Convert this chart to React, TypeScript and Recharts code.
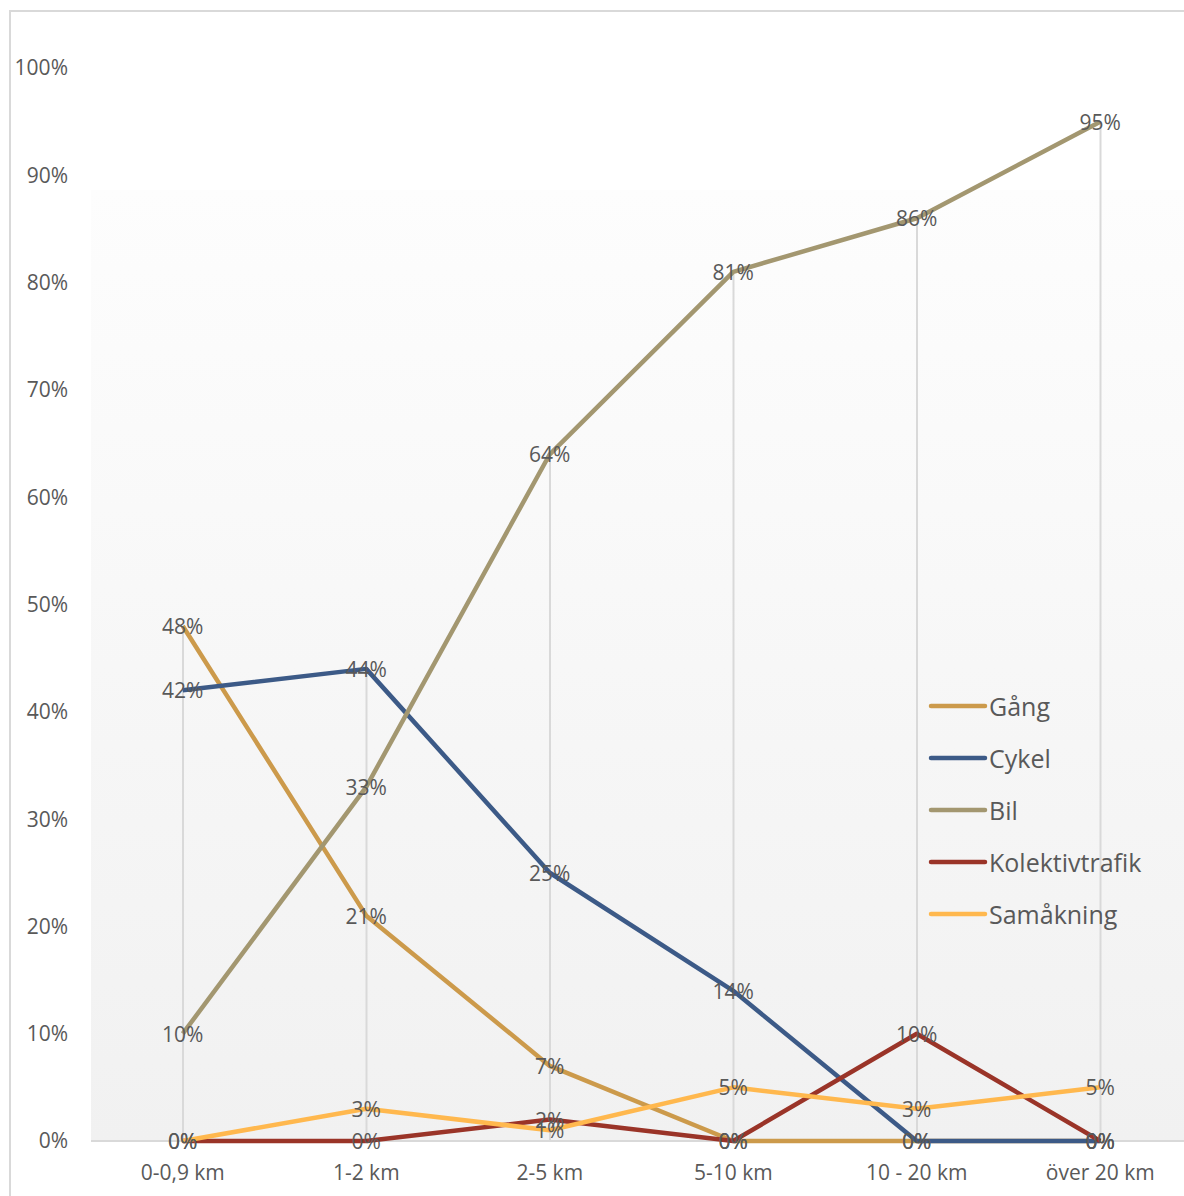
import React from "react";
import {
  ComposedChart,
  Line,
  Bar,
  XAxis,
  YAxis,
  CartesianGrid,
} from "recharts";

const categories = ["0-0,9 km", "1-2 km", "2-5 km", "5-10 km", "10 - 20 km", "över 20 km"];

const gang = [48, 21, 7, 0, 0, 0];
const cykel = [42, 44, 25, 14, 0, 0];
const bil = [10, 33, 64, 81, 86, 95];
const kollektiv = [0, 0, 2, 0, 10, 0];
const samakning = [0, 3, 1, 5, 3, 5];

const yTicks = [0, 10, 20, 30, 40, 50, 60, 70, 80, 90, 100];

const series = [
  { key: "gang", name: "Gång", color: "#CC9A4B", values: gang },
  { key: "cykel", name: "Cykel", color: "#3C5A87", values: cykel },
  { key: "bil", name: "Bil", color: "#A39770", values: bil },
  { key: "kollektiv", name: "Kolektivtrafik", color: "#9A3428", values: kollektiv },
  { key: "samakning", name: "Samåkning", color: "#FFB84E", values: samakning },
];

// one row per distance, plus the highest value for the drop line
const data = categories.map((cat, i) => {
  const row: any = { cat };
  series.forEach((s) => (row[s.key] = s.values[i]));
  row.drop = Math.max(...series.map((s) => s.values[i]));
  return row;
});

const textColor = "#595959";
const font = "'Open Sans', sans-serif";

const renderLabel = (props: any) => {
  const { x, y, value } = props;
  return (
    <text
      x={x}
      y={y}
      textAnchor="middle"
      dominantBaseline="central"
      fill={textColor}
      fontSize={21}
      fontFamily={font}
    >
      {value}%
    </text>
  );
};

const LegendBox = () => (
  <div
    style={{
      position: "absolute",
      left: 928,
      top: 680,
      fontFamily: font,
      fontSize: 25,
      color: textColor,
    }}
  >
    {series.map((s) => (
      <div key={s.key} style={{ display: "flex", alignItems: "center", height: 52 }}>
        <svg width={61} height={8}>
          <line x1={3} y1={4} x2={57} y2={4} stroke={s.color} strokeWidth={4.5} strokeLinecap="round" />
        </svg>
        <span style={{ lineHeight: "52px" }}>{s.name}</span>
      </div>
    ))}
  </div>
);

export default function App() {
  return (
    <div
      style={{
        position: "fixed",
        left: 0,
        top: 0,
        width: 1184,
        height: 1196,
        overflow: "hidden",
        background: "#fff",
      }}
    >
      <div
        style={{
          position: "absolute",
          left: 9,
          top: 10,
          width: 1300,
          height: 1300,
          borderLeft: "2px solid #d9d9d9",
          borderTop: "2px solid #d9d9d9",
        }}
      />
      <div style={{ position: "absolute", left: 0, top: 0 }}>
        <ComposedChart
          width={1192}
          height={1196}
          data={data}
          margin={{ top: 68, right: 0, bottom: 0, left: 0 }}
        >
          <defs>
            <linearGradient id="plotBg" x1="0" y1="0" x2="0" y2="1">
              <stop offset="0" stopColor="#ffffff" stopOpacity={0} />
              <stop offset="0.113" stopColor="#ffffff" stopOpacity={0} />
              <stop offset="0.114" stopColor="#fdfdfd" />
              <stop offset="1" stopColor="#f1f1f1" />
            </linearGradient>
          </defs>
          {/* background plus the 0% base line, kept behind the series */}
          <CartesianGrid
            vertical={false}
            horizontalValues={[0]}
            stroke="#d9d9d9"
            strokeWidth={2}
            fill="url(#plotBg)"
          />
          <XAxis
            dataKey="cat"
            height={55}
            tickLine={false}
            tickSize={0}
            tickMargin={24}
            axisLine={false}
            tick={{ fill: textColor, fontSize: 21, fontFamily: font }}
            interval={0}
          />
          <YAxis
            width={91}
            domain={[0, 100]}
            ticks={yTicks}
            tickFormatter={(v) => `${v}%`}
            axisLine={false}
            tickLine={false}
            tickSize={0}
            tickMargin={23}
            tick={{ fill: textColor, fontSize: 21, fontFamily: font }}
            interval={0}
          />
          <Bar dataKey="drop" barSize={2} fill="#d9d9d9" isAnimationActive={false} legendType="none" />
          {series.map((s) => (
            <Line
              key={s.key}
              dataKey={s.key}
              name={s.name}
              stroke={s.color}
              strokeWidth={4.5}
              strokeLinejoin="round"
              dot={false}
              activeDot={false}
              label={renderLabel}
              isAnimationActive={false}
            />
          ))}
        </ComposedChart>
      </div>
      <LegendBox />
    </div>
  );
}
